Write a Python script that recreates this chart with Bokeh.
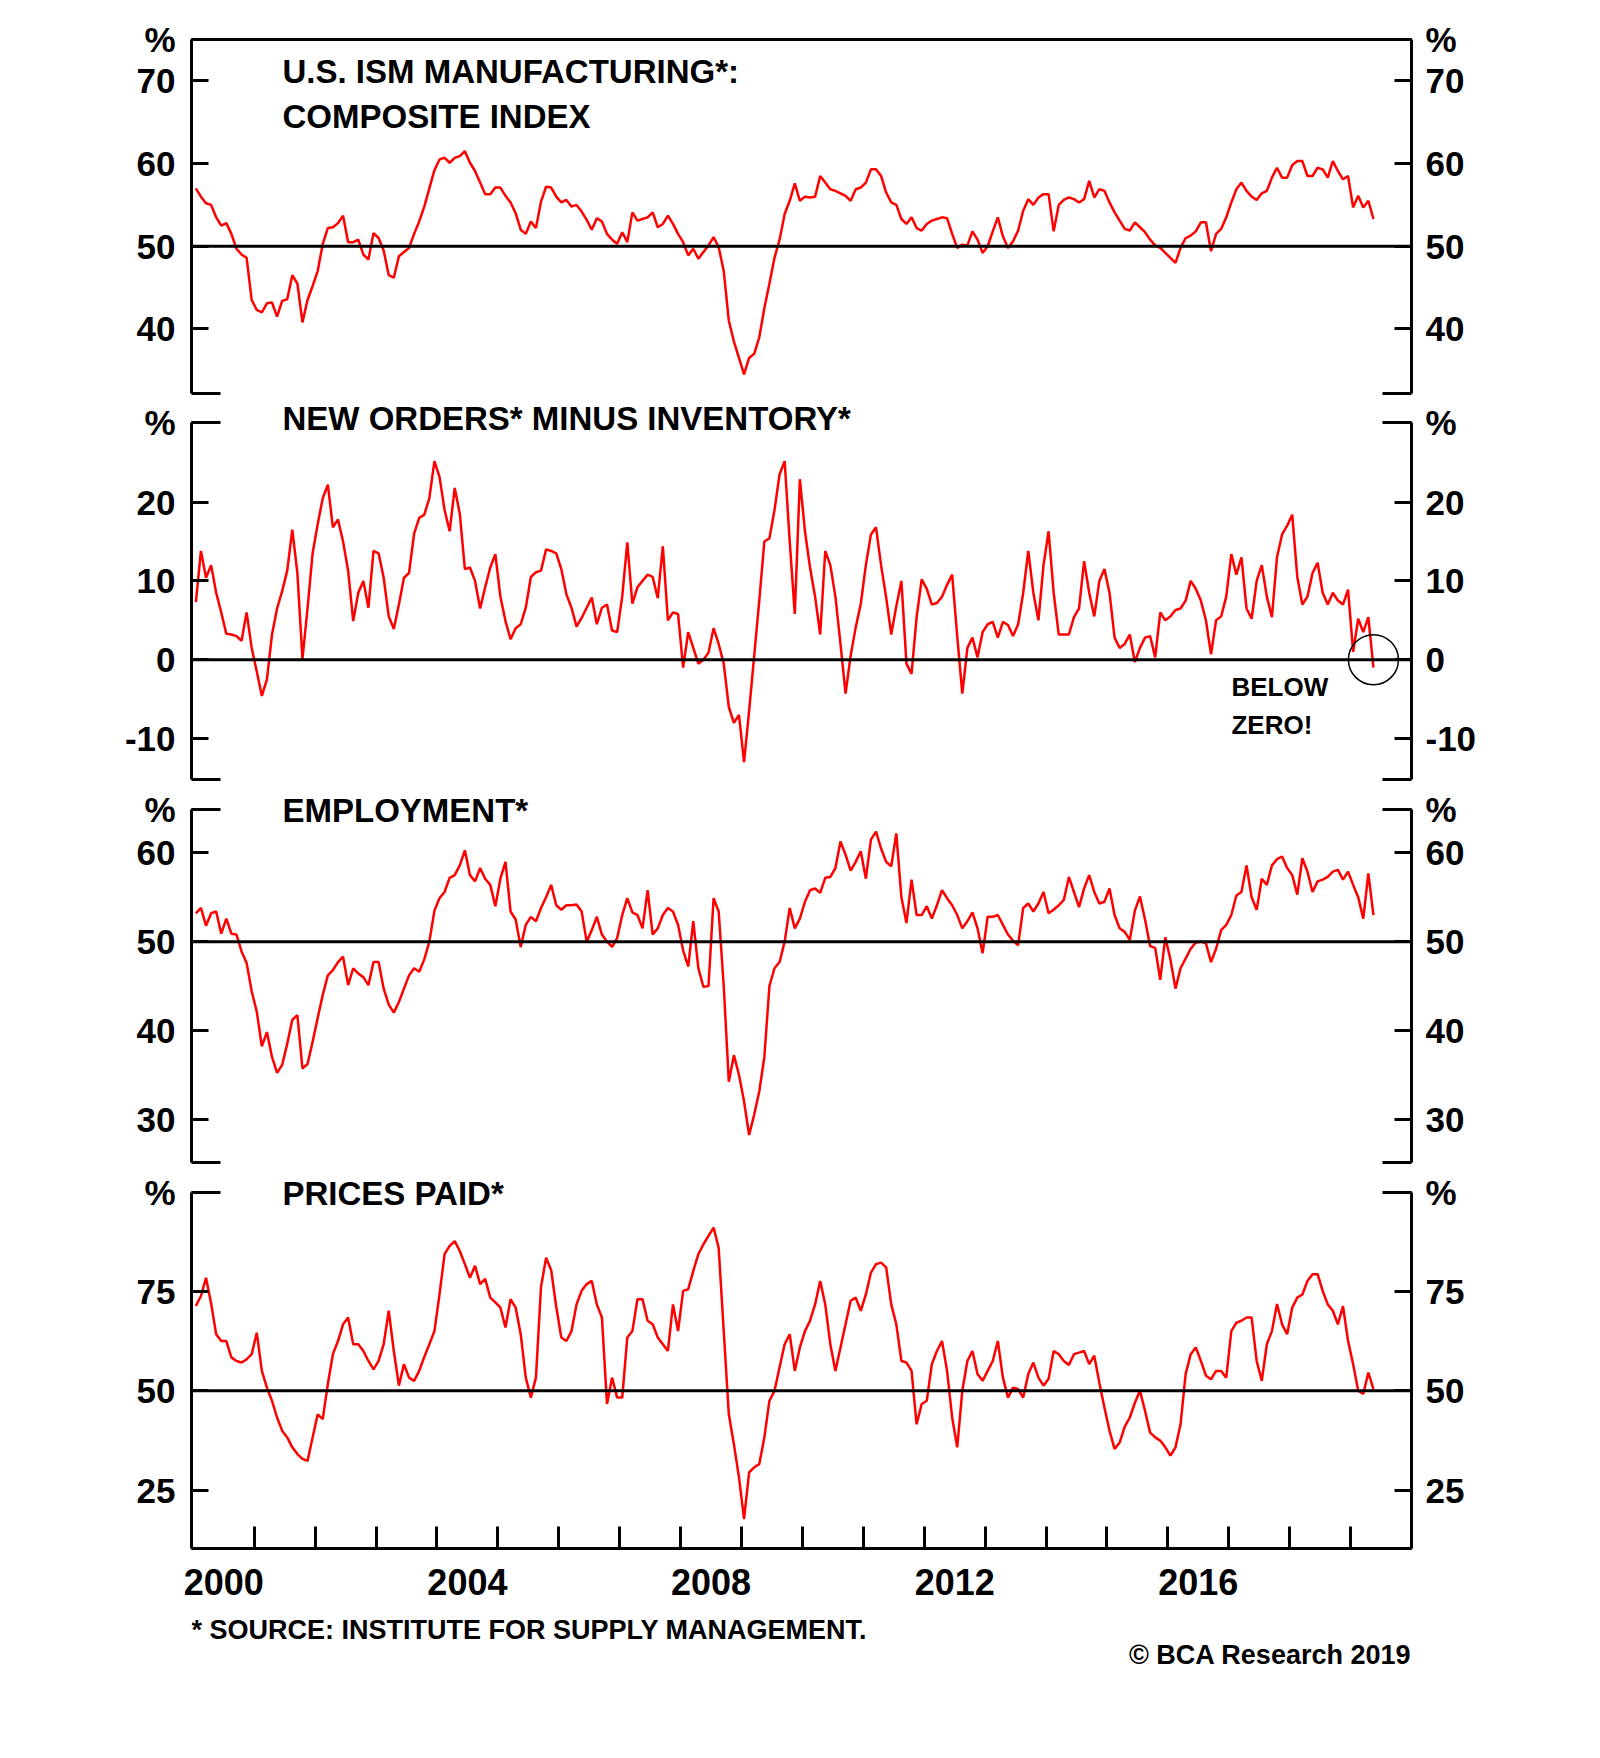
from bokeh.plotting import figure
from bokeh.models import (Range1d, LinearAxis, FixedTicker, Span, Label,
                          CustomJSTickFormatter, ColumnDataSource)
from bokeh.layouts import column
from bokeh.embed import file_html
from bokeh.resources import INLINE

# ---------------- data (monthly, Jan 2000 .. May 2019) ----------------
START_YEAR = 2000

ism_composite = [
    57.0, 56.0, 55.2, 55.0, 53.5, 52.5, 52.8, 51.5, 49.7, 49.0, 48.6, 43.5,
    42.3, 42.0, 43.1, 43.2, 41.5, 43.4, 43.6, 46.5, 45.5, 40.8, 43.5, 45.2,
    47.0, 50.3, 52.2, 52.3, 52.8, 53.7, 50.5, 50.5, 50.8, 49.0, 48.4, 51.6,
    51.0, 49.5, 46.5, 46.2, 48.8, 49.3, 49.8, 51.5, 53.0, 54.8, 57.0, 59.2,
    60.5, 60.7, 60.1, 60.7, 60.9, 61.5, 60.1, 59.1, 57.7, 56.3, 56.3, 57.1,
    57.1, 56.1, 55.3, 54.0, 52.0, 51.5, 53.0, 52.2, 55.4, 57.2, 57.1, 56.0,
    55.3, 55.6, 54.8, 55.0, 54.2, 53.2, 52.0, 53.4, 53.0, 51.5, 50.8, 50.3,
    51.7, 50.5, 54.1, 53.1, 53.3, 53.5, 54.1, 52.3, 52.7, 53.7, 52.7, 51.5,
    50.5, 48.9, 49.7, 48.5, 49.3, 50.1, 51.1, 49.9, 47.0, 41.0, 38.5, 36.5,
    34.5, 36.5, 37.0, 39.0, 42.5, 45.5, 48.6, 50.8, 53.9, 55.5, 57.6, 55.5,
    56.0, 55.9, 56.0, 58.5, 57.7, 56.9, 56.7, 56.4, 56.1, 55.5, 56.9, 57.1,
    57.7, 59.3, 59.3, 58.5, 56.5, 55.3, 55.0, 53.3, 52.7, 53.5, 52.2, 51.9,
    52.7, 53.1, 53.3, 53.5, 53.4, 51.5, 49.8, 50.2, 50.1, 51.8, 50.8, 49.2,
    50.0, 51.8, 53.5, 51.2, 49.8, 50.6, 51.9, 54.3, 55.7, 55.0, 55.9, 56.3,
    56.3, 51.8, 55.0, 55.6, 55.9, 55.7, 55.3, 55.7, 57.9, 55.9, 56.9, 56.7,
    55.3, 54.1, 53.1, 52.1, 51.9, 52.9, 52.3, 51.7, 50.8, 50.1, 49.8, 49.2,
    48.6, 48.0, 49.8, 51.0, 51.3, 51.8, 52.9, 52.9, 49.4, 51.5, 52.1, 53.5,
    55.3, 56.9, 57.7, 56.7, 56.0, 55.6, 56.4, 56.7, 58.3, 59.5, 58.3, 58.3,
    59.8, 60.3, 60.3, 58.5, 58.5, 59.5, 59.3, 58.3, 60.3, 59.1, 58.1, 58.5,
    54.7, 56.1, 54.7, 55.5, 53.3,
]

new_orders_minus_inventory = [
    7.3, 13.8, 10.4, 12.0, 8.5, 6.0, 3.3, 3.2, 3.0, 2.4, 6.0, 1.5,
    -1.5, -4.6, -2.5, 3.2, 6.5, 8.7, 11.3, 16.5, 11.0, 0.1, 6.5, 13.5,
    17.2, 20.5, 22.2, 16.8, 17.8, 15.0, 11.3, 4.9, 8.5, 10.0, 6.6, 13.8,
    13.5, 10.4, 5.5, 3.9, 7.0, 10.4, 11.0, 16.0, 18.0, 18.4, 20.5, 25.2,
    23.2, 19.0, 16.3, 21.8, 18.5, 11.5, 11.7, 10.0, 6.5, 9.2, 11.7, 13.4,
    8.0, 4.9, 2.6, 4.0, 4.5, 6.6, 10.5, 11.1, 11.3, 14.0, 13.8, 13.5,
    11.5, 8.3, 6.6, 4.2, 5.3, 6.6, 7.9, 4.5, 6.6, 7.0, 3.7, 3.5,
    8.0, 14.9, 7.1, 9.2, 10.0, 10.8, 10.5, 7.8, 14.4, 5.0, 6.0, 5.8,
    -1.0, 3.5, 1.5, -0.5, 0.0, 0.9, 4.0, 2.0, -0.5, -6.0, -8.0, -7.0,
    -13.0, -6.5, 0.5, 7.5, 15.0, 15.4, 19.0, 23.5, 25.2, 15.0, 5.8, 22.9,
    16.3, 11.7, 8.0, 3.2, 13.8, 12.0, 8.0, 2.0, -4.3, 0.5, 4.1, 7.1,
    12.0, 15.9, 16.8, 12.0, 7.9, 3.2, 6.8, 10.0, -0.5, -1.8, 5.4, 10.2,
    9.0, 7.0, 7.2, 8.0, 9.5, 10.8, 3.0, -4.3, 1.5, 2.8, 0.3, 3.5,
    4.5, 4.8, 2.8, 4.8, 4.4, 3.0, 4.5, 8.5, 13.8, 8.5, 5.0, 12.0,
    16.3, 8.5, 3.2, 3.2, 3.2, 5.4, 6.5, 12.5, 8.5, 5.5, 10.0, 11.5,
    8.5, 2.8, 1.5, 2.0, 3.2, -0.3, 1.5, 2.8, 3.0, 0.3, 6.0, 5.0,
    5.5, 6.3, 6.5, 7.5, 10.0, 9.0, 7.5, 5.0, 0.7, 5.0, 5.5, 8.0,
    13.4, 10.8, 13.0, 6.5, 5.2, 10.0, 12.0, 8.0, 5.4, 13.0, 15.9, 17.0,
    18.4, 10.5, 7.0, 8.0, 11.0, 12.3, 8.5, 7.0, 8.5, 7.5, 7.0, 8.9,
    1.0, 5.2, 3.5, 5.4, -1.0,
]

employment = [
    53.2, 53.8, 51.8, 53.2, 53.4, 50.9, 52.6, 50.9, 50.8, 48.9, 47.6, 44.4,
    42.1, 38.2, 39.8, 37.0, 35.2, 36.1, 38.5, 41.2, 41.7, 35.7, 36.2, 38.7,
    41.4, 44.0, 46.2, 46.8, 47.7, 48.3, 45.1, 47.0, 46.4, 46.0, 45.1, 47.7,
    47.7, 44.7, 42.9, 42.0, 43.2, 44.7, 46.2, 47.0, 46.6, 48.0, 50.0, 53.5,
    54.9, 55.6, 57.2, 57.5, 58.6, 60.3, 57.5, 56.8, 58.3, 57.1, 56.4, 54.0,
    57.1, 59.0, 53.4, 52.5, 49.4, 51.9, 52.8, 52.3, 53.8, 55.0, 56.4, 54.1,
    53.6, 54.1, 54.1, 54.2, 53.4, 50.0, 51.3, 52.8, 50.8, 50.0, 49.4, 50.4,
    53.0, 54.9, 53.3, 53.0, 51.5, 55.8, 50.8, 51.5, 53.0, 53.8, 53.4, 51.9,
    49.0, 47.2, 52.3, 47.0, 44.9, 45.0, 54.9, 53.4, 45.0, 34.2, 37.2, 35.0,
    32.0, 28.2, 30.5, 33.1, 37.0, 45.0, 47.0, 47.7, 50.0, 53.8, 51.5, 52.6,
    54.5, 55.8, 56.0, 55.5, 57.2, 57.3, 58.3, 61.3, 59.8, 58.0, 59.0, 60.2,
    57.1, 61.5, 62.4, 60.5, 59.0, 58.5, 62.2, 55.0, 52.1, 57.0, 53.0, 53.0,
    54.0, 52.6, 54.1, 55.8, 54.9, 54.1, 53.0, 51.5, 52.3, 53.3, 51.5, 48.7,
    52.8, 52.8, 53.0, 51.9, 50.8, 50.1, 49.6, 53.8, 54.3, 53.4, 54.3, 55.6,
    53.2, 53.6, 54.1, 54.7, 57.3, 55.6, 53.9, 56.0, 57.5, 55.6, 54.3, 54.5,
    56.0, 53.0, 51.5, 51.1, 50.2, 53.5, 55.1, 52.5, 49.5, 49.3, 45.7, 50.5,
    48.0, 44.7, 47.0, 48.1, 49.2, 49.9, 50.0, 49.8, 47.7, 49.2, 51.3, 51.9,
    53.0, 55.2, 55.6, 58.6, 55.0, 53.6, 57.1, 56.4, 58.6, 59.3, 59.6, 58.3,
    57.5, 55.3, 59.4, 57.9, 55.6, 56.8, 57.0, 57.3, 57.9, 58.1, 57.0, 57.9,
    56.4, 55.0, 52.6, 57.7, 53.0,
]

prices_paid = [
    71.3, 73.8, 78.4, 72.0, 64.2, 62.5, 62.5, 58.4, 57.5, 57.1, 57.9, 59.2,
    64.6, 55.0, 50.8, 47.5, 43.3, 40.0, 38.3, 35.8, 34.1, 32.9, 32.4, 38.3,
    44.1, 42.9, 51.7, 59.2, 62.5, 66.7, 68.4, 61.7, 61.7, 60.0, 57.5, 55.4,
    57.5, 61.7, 70.1, 60.0, 51.3, 56.7, 53.3, 52.5, 55.0, 58.5, 61.7, 65.0,
    74.2, 84.3, 86.4, 87.6, 85.1, 81.8, 78.4, 81.4, 76.8, 78.1, 73.4, 72.2,
    70.9, 65.9, 73.0, 70.9, 64.2, 53.3, 48.3, 53.3, 76.1, 83.4, 80.3, 71.1,
    63.4, 62.5, 65.0, 71.7, 75.1, 76.8, 77.6, 71.7, 68.4, 46.7, 53.3, 48.3,
    48.3, 63.4, 65.0, 73.0, 73.0, 67.6, 66.7, 63.4, 61.7, 60.0, 71.7, 65.0,
    75.1, 75.5, 80.1, 84.3, 86.8, 88.9, 91.0, 85.9, 65.0, 44.1, 36.6, 28.3,
    17.8, 29.5, 30.8, 31.6, 38.3, 47.5, 50.0, 55.9, 61.7, 64.2, 55.0, 60.9,
    65.0, 67.6, 71.7, 77.6, 71.7, 61.7, 55.0, 60.9, 66.7, 72.6, 73.4, 70.1,
    74.2, 79.7, 81.8, 82.2, 81.0, 71.7, 66.7, 57.5, 57.1, 55.0, 41.6, 46.7,
    47.5, 56.7, 60.0, 62.5, 55.0, 43.3, 35.8, 50.0, 57.5, 60.0, 54.2, 52.5,
    55.0, 57.5, 62.5, 53.3, 48.3, 50.8, 50.4, 48.3, 54.2, 57.1, 53.3, 51.3,
    53.0, 60.0, 59.2, 57.5, 56.5, 59.2, 59.6, 60.0, 56.7, 58.8, 52.0, 45.8,
    40.0, 35.4, 37.0, 41.0, 43.3, 47.0, 50.0, 45.0, 39.5, 38.3, 37.5, 35.8,
    33.7, 35.8, 41.6, 54.2, 59.2, 60.9, 57.5, 53.8, 52.9, 55.0, 55.0, 53.3,
    65.0, 67.1, 67.6, 68.4, 68.4, 57.5, 52.5, 61.7, 65.0, 71.8, 66.7, 64.2,
    70.9, 73.4, 74.2, 77.6, 79.3, 79.3, 75.1, 71.7, 70.1, 66.7, 71.3, 62.5,
    56.7, 50.0, 49.2, 54.6, 50.4,
]

year_labels = [2000, 2004, 2008, 2012, 2016]
year_ticks = list(range(2001, 2020))

panel_titles = [
    ["U.S. ISM MANUFACTURING*:", "COMPOSITE INDEX"],
    ["NEW ORDERS* MINUS INVENTORY*"],
    ["EMPLOYMENT*"],
    ["PRICES PAID*"],
]
panel_ticks = [[40, 50, 60, 70], [-10, 0, 10, 20], [30, 40, 50, 60], [25, 50, 75]]
panel_limits = [(32.2, 75.0), (-15.2, 30.1), (25.1, 64.9), (10.4, 99.8)]
panel_refs = [50, 0, 50, 50]
panel_series = [ism_composite, new_orders_minus_inventory, employment, prices_paid]
annotation_text = ["BELOW", "ZERO!"]
source_note = "* SOURCE: INSTITUTE FOR SUPPLY MANAGEMENT."
copyright_note = "\u00a9 BCA Research 2019"

months = [START_YEAR + (i + 0.5) / 12 for i in range(len(ism_composite))]

# ---------------- layout / style ----------------
X0, X1 = 1999.97, 2020.0
FONT = "Liberation Sans"
RED = "#ff0000"
W = 1590
LEFT_B = 191
FRAME_W = 1220
RIGHT_B = W - LEFT_B - FRAME_W

# page pixel geometry: canvas extents and visible panel boxes
CANVAS = [(0, 396), (396, 785), (785, 1168), (1168, 1612)]
BOX = [(39, 393), (422, 779), (809, 1162), (1192, 1548)]
TITLE_DY = [[-32, -77], [4], [-1], [-1]]
FOOT = (1612, 1690)


def y_axis(lo, hi, ticks, standoff):
    fmt = CustomJSTickFormatter(args=dict(hi=hi),
                                code="return Math.abs(tick - hi) < 1e-6 ? '%' : tick.toFixed(0);")
    return LinearAxis(
        ticker=FixedTicker(ticks=ticks + [hi], minor_ticks=[lo, hi]),
        formatter=fmt, bounds=(lo, hi),
        major_tick_in=17, major_tick_out=0,
        minor_tick_in=29, minor_tick_out=0,
        major_tick_line_width=3, minor_tick_line_width=3,
        axis_line_width=3, axis_line_color="black",
        major_tick_line_color="black", minor_tick_line_color="black",
        major_label_text_font=FONT, major_label_text_font_style="bold",
        major_label_text_font_size="35px", major_label_text_color="black",
        major_label_standoff=standoff,
    )


def label(x, y, text, dx, dy, size, align="left"):
    return Label(x=x, y=y, x_offset=dx, y_offset=dy, text=text,
                 text_align=align, text_baseline="middle", text_font=FONT,
                 text_font_style="bold", text_font_size=size, text_color="black")


def base_figure(height, y_range, top, bottom):
    f = figure(width=W, height=height,
               x_range=Range1d(X0, X1), y_range=y_range,
               x_axis_type=None, y_axis_type=None,
               toolbar_location=None, tools="", output_backend="svg",
               min_border_left=LEFT_B, min_border_right=RIGHT_B,
               min_border_top=top, min_border_bottom=bottom)
    f.outline_line_color = None
    f.background_fill_color = "white"
    f.border_fill_color = "white"
    return f


figs = []
for k in range(4):
    lo, hi = panel_limits[k]
    ct, cb = CANVAS[k]
    bt, bb = BOX[k]
    frame_top = bt if k == 0 else ct
    frame_bottom = bb if k == 3 else cb
    ppu = (bb - bt) / (hi - lo)
    r_hi = hi + (bt - frame_top) / ppu
    r_lo = lo - (frame_bottom - bb) / ppu

    p = base_figure(cb - ct, Range1d(r_lo, r_hi), frame_top - ct, cb - frame_bottom)

    p.add_layout(y_axis(lo, hi, panel_ticks[k], 16), "left")
    p.add_layout(y_axis(lo, hi, panel_ticks[k], 14), "right")

    if k == 0:
        top_ax = LinearAxis(ticker=FixedTicker(ticks=[]), major_tick_in=0, major_tick_out=0,
                            minor_tick_in=0, minor_tick_out=0,
                            major_label_text_font_size="0px",
                            axis_line_width=3, axis_line_color="black")
        p.add_layout(top_ax, "above")

    p.add_layout(Span(location=panel_refs[k], dimension="width",
                      line_color="black", line_width=3))

    src = ColumnDataSource(dict(x=months, y=panel_series[k]))
    p.line(x="x", y="y", source=src, line_color=RED, line_width=2.5)

    for t, dy in zip(panel_titles[k], TITLE_DY[k]):
        p.add_layout(label(X0, hi, t, 91, dy, "33px"))

    if k == 1:
        p.scatter(x=[months[-1]], y=[panel_refs[k]], marker="circle", size=50,
                  fill_color=None, line_color="black", line_width=1.5)
        for t, dy in zip(annotation_text, [-27, -65]):
            p.add_layout(label(months[-1], panel_refs[k], t, -142, dy, "26px"))

    if k == 3:
        xa = LinearAxis(
            ticker=FixedTicker(ticks=[y + 0.5 for y in year_labels], minor_ticks=year_ticks),
            formatter=CustomJSTickFormatter(code="return Math.floor(tick).toString();"),
            major_tick_in=0, major_tick_out=0,
            minor_tick_in=22, minor_tick_out=0, minor_tick_line_width=3,
            minor_tick_line_color="black",
            axis_line_width=3, axis_line_color="black",
            major_label_text_font=FONT, major_label_text_font_style="bold",
            major_label_text_font_size="36px", major_label_text_color="black",
            major_label_standoff=20,
        )
        p.add_layout(xa, "below")
    figs.append(p)

# footer strip (frame aligned with the panels above)
foot = base_figure(FOOT[1] - FOOT[0], Range1d(0, 1), 0, 0)
foot.add_layout(label(X0, 1, source_note, 0, -17.5, "27px"))
foot.add_layout(label(X1, 1, copyright_note, 0, -42.5, "27px", align="right"))
figs.append(foot)

layout = column(*figs, spacing=0)
open("out.html", "w").write(file_html(layout, INLINE))
